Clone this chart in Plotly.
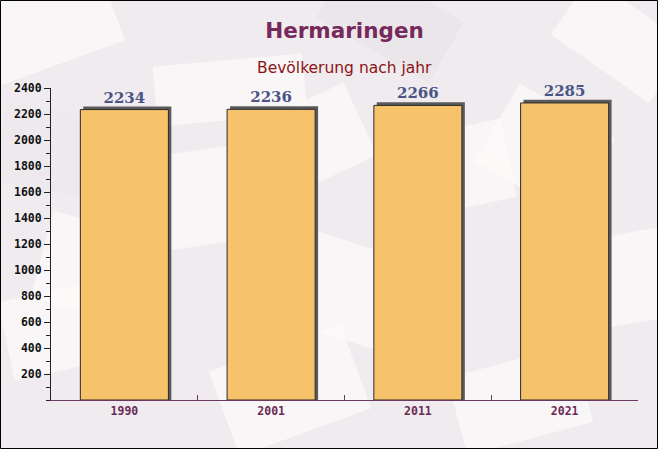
import math
import plotly.graph_objects as go

years = ["1990", "2001", "2011", "2021"]
population = [2234, 2236, 2266, 2285]
y_ticks = [200, 400, 600, 800, 1000, 1200, 1400, 1600, 1800, 2000, 2200, 2400]

W, H = 658, 449
L, R, T, B = 51, 20, 88, 49
pw, ph = W - L - R, H - T - B


def px(x, y):
    """pixel position -> paper coordinates"""
    return (x - L) / pw, (H - B - y) / ph


def envelope(cx, cy, w, h, ang, color="rgba(252,250,250,0.75)"):
    a = math.radians(ang)
    pts = []
    for dx, dy in [(-w / 2, -h / 2), (w / 2, -h / 2), (w / 2, h / 2), (-w / 2, h / 2)]:
        x = cx + dx * math.cos(a) - dy * math.sin(a)
        y = cy + dx * math.sin(a) + dy * math.cos(a)
        pts.append(px(x, y))
    path = "M " + " L ".join(f"{p[0]:.4f},{p[1]:.4f}" for p in pts) + " Z"
    return dict(type="path", xref="paper", yref="paper", path=path,
                fillcolor=color, line=dict(width=0), layer="below")


bg_shapes = [
    envelope(50, 25, 130, 80, -20),
    envelope(185, 200, 110, 95, -8),
    envelope(100, 270, 120, 90, 15),
    envelope(60, 330, 110, 80, -12),
    envelope(290, 390, 140, 90, -20),
    envelope(345, 290, 120, 95, 18),
    envelope(315, 140, 100, 80, -25),
    envelope(450, 170, 120, 80, -12),
    envelope(545, 150, 110, 90, 30),
    envelope(620, 280, 120, 90, -10),
    envelope(520, 400, 130, 80, -15),
    envelope(620, 40, 120, 70, 35),
    envelope(390, 20, 130, 70, 30, "rgba(230,226,230,0.6)"),
    envelope(230, 90, 150, 60, -5),
    envelope(50, 150, 100, 80, 10, "rgba(235,231,235,0.5)"),
]

fig = go.Figure()
# shadow (3D extrusion)
fig.add_trace(go.Bar(
    x=years, y=[v + 24 for v in population], width=0.6, offset=-0.28,
    marker=dict(color="#5b5b5b", line=dict(width=0)), hoverinfo="skip", showlegend=False))
# main bars
fig.add_trace(go.Bar(
    x=years, y=population, width=0.6, offset=-0.3,
    marker=dict(color="#f7c36a", line=dict(color="#2a2a2a", width=1)),
    text=[str(v) for v in population], textposition="outside", cliponaxis=False,
    textfont=dict(family="DejaVu Serif", size=15, color="#4b5585", weight="bold"),
    showlegend=False))

border = dict(type="rect", xref="paper", yref="paper",
              x0=-(L - 0.5) / pw, x1=1 + (R - 0.5) / pw, y0=-(B - 0.5) / ph, y1=1 + (T - 0.5) / ph,
              line=dict(color="#000", width=1), layer="above")

fig.update_layout(
    width=W, height=H, margin=dict(l=L, r=R, t=T, b=B),
    barmode="overlay",
    paper_bgcolor="#efebef", plot_bgcolor="rgba(0,0,0,0)",
    title=dict(text="Hermaringen", x=0.5, xref="paper", xanchor="center", y=1 - 30 / H, yanchor="middle",
               font=dict(family="DejaVu Sans", size=21.5, color="#76295a", weight="bold")),
    annotations=[dict(text="Bevölkerung nach jahr", xref="paper", yref="paper", x=0.5,
                      y=1 + (T - 68) / ph, yanchor="middle", showarrow=False,
                      font=dict(family="DejaVu Sans", size=15.5, color="#8b1515"))],
    xaxis=dict(type="category", showgrid=False, showline=True, linecolor="#6a3a5e", linewidth=1,
               ticks="inside", tickson="boundaries", ticklen=5, tickcolor="#6a3a5e",
               tickfont=dict(family="DejaVu Sans Mono", size=11.5, color="#6b2a55", weight="bold"),
               range=[-0.5, 3.5]),
    yaxis=dict(range=[0, 2400], tickvals=y_ticks, showgrid=False, showline=True, linecolor="#222",
               linewidth=1, ticks="outside", ticklen=6, tickcolor="#222", zeroline=False,
               tickfont=dict(family="DejaVu Sans Mono", size=11.5, color="#111", weight="bold"),
               minor=dict(dtick=100, tick0=0, ticks="outside", ticklen=4, tickcolor="#222")),
    shapes=bg_shapes + [border],
)

fig.write_html("out.html", config={"displayModeBar": False},
               post_script="document.body.style.margin='0';document.body.style.overflow='hidden';")
